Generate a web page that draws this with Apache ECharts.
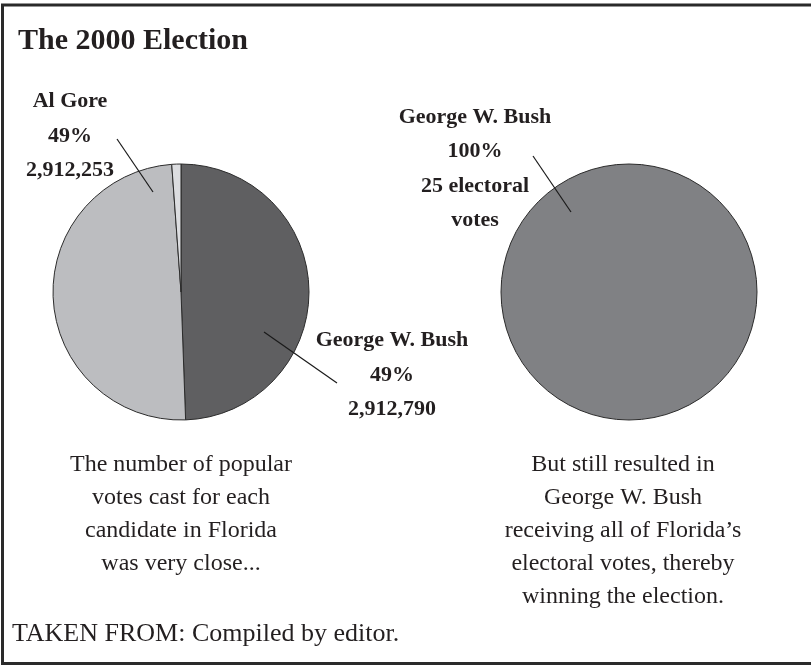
<!DOCTYPE html>
<html>
<head>
<meta charset="utf-8">
<script src="https://cdn.jsdelivr.net/npm/echarts@6/dist/echarts.min.js"></script>
<style>
  html, body { margin: 0; padding: 0; background: #fff; }
  #main { width: 811px; height: 665px; }
</style>
</head>
<body>
<div id="main"></div>
<script>
// popular vote, Florida 2000 (the small slice is everyone else)
var popularNames = ['George W. Bush', 'Al Gore', 'Other'];
var popularVotes = [2912790, 2912253, 68000];
var popularPctShown = [49, 49];           // as printed on the chart
var popularColors = ['#5f5f61', '#bcbdc0', '#dcdde0'];

// electoral votes
var electoralNames = ['George W. Bush'];
var electoralVotes = [25];
var electoralColor = '#808184';

var leftCaption = ['The number of popular', 'votes cast for each', 'candidate in Florida', 'was very close...'];
var rightCaption = ['But still resulted in', 'George W. Bush', 'receiving all of Florida\u2019s', 'electoral votes, thereby', 'winning the election.'];

var FONT = '"Liberation Serif", "DejaVu Serif", serif';
var INK = '#231f20';

function fmt(n) {
    return String(n).replace(/\B(?=(\d{3})+(?!\d))/g, ',');
}

// where each label block sits (centre of the block)
var leftLabelPos = [[392, 375], [70, 136]];
var rightLabelPos = [[475, 169]];

var chart = echarts.init(document.getElementById('main'), null, { renderer: 'canvas' });

var labelStyle = {
    show: true,
    position: 'outside',
    fontFamily: FONT,
    fontWeight: 'bold',
    fontSize: 22,
    lineHeight: 34.5,
    color: INK,
    align: 'center'
};

chart.setOption({
    animation: false,
    series: [
        {
            type: 'pie',
            center: [181, 292],
            radius: 128,
            startAngle: 90,
            clockwise: true,
            avoidLabelOverlap: false,
            silent: true,
            itemStyle: { borderColor: '#2b2b2b', borderWidth: 1 },
            label: Object.assign({}, labelStyle, {
                formatter: function (p) {
                    return p.name + '\n' + popularPctShown[p.dataIndex] + '%\n' + fmt(p.value);
                }
            }),
            labelLine: { show: false },
            labelLayout: function (p) {
                var pos = leftLabelPos[p.dataIndex];
                if (!pos) return {};
                return { x: pos[0], y: pos[1], align: 'center', verticalAlign: 'middle' };
            },
            data: popularNames.map(function (n, i) {
                var d = { name: n, value: popularVotes[i], itemStyle: { color: popularColors[i] } };
                if (i > 1) d.label = { show: false };
                return d;
            })
        },
        {
            type: 'pie',
            center: [629, 292],
            radius: 128,
            startAngle: 90,
            avoidLabelOverlap: false,
            silent: true,
            itemStyle: { borderColor: '#2b2b2b', borderWidth: 1 },
            label: Object.assign({}, labelStyle, {
                formatter: function (p) {
                    return p.name + '\n' + Math.round(p.percent) + '%\n' + p.value + ' electoral\nvotes';
                }
            }),
            labelLine: { show: false },
            labelLayout: function (p) {
                var pos = rightLabelPos[p.dataIndex];
                return { x: pos[0], y: pos[1], align: 'center', verticalAlign: 'middle' };
            },
            data: electoralNames.map(function (n, i) {
                return { name: n, value: electoralVotes[i], itemStyle: { color: electoralColor } };
            })
        }
    ],
    graphic: [
        // frame (right edge runs off the picture)
        {
            type: 'rect', z: 100,
            shape: { x: 2.5, y: 5, width: 830, height: 658.5 },
            style: { fill: null, stroke: '#2a2a2a', lineWidth: 3 }
        },
        {
            type: 'text', x: 18, y: 41,
            style: { text: 'The 2000 Election', font: 'bold 30px ' + FONT, fill: INK, textVerticalAlign: 'middle' }
        },
        // leader lines
        { type: 'line', z: 50, shape: { x1: 117, y1: 139, x2: 153, y2: 192 }, style: { stroke: '#1a1a1a', lineWidth: 1.2 } },
        { type: 'line', z: 50, shape: { x1: 264, y1: 332, x2: 337, y2: 383 }, style: { stroke: '#1a1a1a', lineWidth: 1.2 } },
        { type: 'line', z: 50, shape: { x1: 533, y1: 156, x2: 571, y2: 212 }, style: { stroke: '#1a1a1a', lineWidth: 1.2 } },
        {
            type: 'text', x: 181, y: 448.5,
            style: {
                text: leftCaption.join('\n'), font: '24px ' + FONT, fill: INK,
                textAlign: 'center', textVerticalAlign: 'top', lineHeight: 33
            }
        },
        {
            type: 'text', x: 623, y: 448.5,
            style: {
                text: rightCaption.join('\n'), font: '24px ' + FONT, fill: INK,
                textAlign: 'center', textVerticalAlign: 'top', lineHeight: 33
            }
        },
        {
            type: 'text', x: 12, y: 634,
            style: { text: 'TAKEN FROM: Compiled by editor.', font: '26px ' + FONT, fill: INK, textVerticalAlign: 'middle' }
        }
    ]
});
</script>
</body>
</html>
